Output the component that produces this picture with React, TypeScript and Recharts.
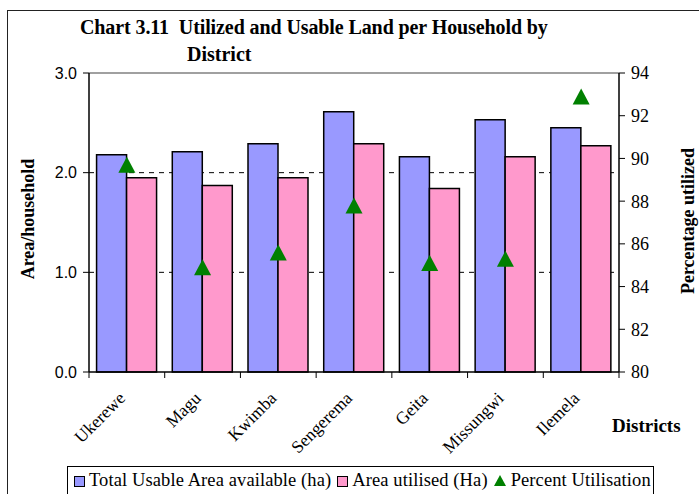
import { ComposedChart, Bar, Scatter, XAxis, YAxis, CartesianGrid, ReferenceLine } from "recharts";

const districts = ["Ukerewe", "Magu", "Kwimba", "Sengerema", "Geita", "Missungwi", "Ilemela"];
const totalUsable = [2.18, 2.21, 2.29, 2.61, 2.16, 2.53, 2.45];
const areaUtilised = [1.95, 1.87, 1.95, 2.29, 1.84, 2.16, 2.27];
const percentUtil = [89.7, 84.9, 85.6, 87.8, 85.1, 85.3, 92.9];
const leftTicks = [0, 1, 2, 3];
const gridValues = [1, 2];
const rightTicks = [80, 82, 84, 86, 88, 90, 92, 94];

const data = districts.map((d, i) => ({
  district: d,
  total: totalUsable[i],
  utilised: areaUtilised[i],
  pct: percentUtil[i],
}));

const W = 699;
const H = 494;
const PLOT_LEFT = 89;
const PLOT_RIGHT = 619;
const BAND = (PLOT_RIGHT - PLOT_LEFT) / districts.length;
const SERIF = "'Liberation Serif', 'Times New Roman', serif";
const SANS = "'Liberation Sans', Arial, sans-serif";

const BLUE = "#9999ff";
const PINK = "#ff99cc";
const GREEN = "#008000";

function DistrictTick(props: any) {
  const { x, y, payload, index } = props;
  const ax = x - 5;
  const ay = y + 15;
  return (
    <g>
      <line x1={x + BAND / 2} y1={y - 8} x2={x + BAND / 2} y2={y - 2} stroke="#000" />
      {index === 0 && <line x1={x - BAND / 2} y1={y - 8} x2={x - BAND / 2} y2={y - 2} stroke="#000" />}
      <text
        x={ax}
        y={ay}
        transform={`rotate(-45 ${ax} ${ay})`}
        textAnchor="end"
        dy="0.35em"
        fontFamily={SERIF}
        fontSize={17.5}
        fill="#000"
      >
        {payload.value}
      </text>
    </g>
  );
}

function Triangle(props: any) {
  const { cx, cy } = props;
  if (cx == null || cy == null) return null;
  return <polygon points={`${cx},${cy - 8} ${cx + 8.5},${cy + 8} ${cx - 8.5},${cy + 8}`} fill={GREEN} />;
}

const boldLabel: React.CSSProperties = {
  position: "absolute",
  fontFamily: SERIF,
  fontWeight: "bold",
  fontSize: 18,
  whiteSpace: "nowrap",
  color: "#000",
};

export default function App() {
  return (
    <div style={{ position: "absolute", left: 0, top: 0, width: W, height: H, overflow: "hidden", background: "#fff" }}>
      <div
        style={{
          position: "absolute",
          left: 7,
          top: 10,
          width: W + 20,
          height: H + 20,
          border: "1.5px solid #222",
        }}
      />
      <div style={{ ...boldLabel, fontSize: 20, left: 80, top: 16, letterSpacing: -0.1 }}>
        Chart 3.11&nbsp;&nbsp;Utilized and Usable Land per Household by
      </div>
      <div style={{ ...boldLabel, fontSize: 20, left: 187, top: 43 }}>District</div>
      <div style={{ ...boldLabel, left: 28, top: 219, transform: "translate(-50%, -50%) rotate(-90deg)" }}>
        Area/household
      </div>
      <div style={{ ...boldLabel, left: 688, top: 221, transform: "translate(-50%, -50%) rotate(-90deg)" }}>
        Percentage utilized
      </div>
      <div style={{ ...boldLabel, fontSize: 19, left: 612, top: 415 }}>Districts</div>

      <div style={{ position: "absolute", left: 0, top: 0 }}>
        <ComposedChart
          width={W}
          height={H}
          data={data}
          margin={{ top: 73, right: 30, bottom: 42, left: 39 }}
          barCategoryGap="10%"
          barGap={0}
        >
          <CartesianGrid
            vertical={false}
            stroke="#000"
            strokeDasharray="5 5"
            yAxisId="left"
            horizontalValues={gridValues}
          />
          <XAxis
            dataKey="district"
            interval={0}
            height={80}
            tick={<DistrictTick />}
            tickLine={false}
            axisLine={{ stroke: "#000", strokeWidth: 1.5 }}
          />
          <YAxis
            yAxisId="left"
            orientation="left"
            width={50}
            domain={[0, 3]}
            ticks={leftTicks}
            tickFormatter={(v: number) => v.toFixed(1)}
            tickSize={6}
            tickMargin={6}
            tick={{ fontFamily: SANS, fontSize: 16, fill: "#000" }}
            tickLine={{ stroke: "#000" }}
            axisLine={{ stroke: "#000", strokeWidth: 1.5 }}
          />
          <YAxis
            yAxisId="right"
            orientation="right"
            width={50}
            domain={[80, 94]}
            ticks={rightTicks}
            tickSize={6}
            tickMargin={6}
            tick={{ fontFamily: SERIF, fontSize: 18, fill: "#000" }}
            tickLine={{ stroke: "#000" }}
            axisLine={{ stroke: "#000", strokeWidth: 1.5 }}
          />
          <ReferenceLine yAxisId="left" y={3} stroke="#808080" strokeWidth={1.5} ifOverflow="extendDomain" />
          <Bar yAxisId="left" dataKey="total" name="Total Usable Area available (ha)" fill={BLUE} stroke="#000" strokeWidth={1.5} isAnimationActive={false} />
          <Bar yAxisId="left" dataKey="utilised" name="Area utilised (Ha)" fill={PINK} stroke="#000" strokeWidth={1.5} isAnimationActive={false} />
          <Scatter yAxisId="right" dataKey="pct" name="Percent Utilisation" shape={<Triangle />} isAnimationActive={false} />
        </ComposedChart>
      </div>

      <div
        style={{
          position: "absolute",
          left: 67,
          top: 466,
          width: 587,
          height: 40,
          border: "1px solid #000",
          boxSizing: "border-box",
          fontFamily: SERIF,
          fontSize: 18.5,
          letterSpacing: 0.1,
          display: "flex",
          alignItems: "flex-start",
          paddingTop: 3,
          paddingLeft: 6,
          whiteSpace: "nowrap",
        }}
      >
        <span style={{ flexShrink: 0, display: "inline-block", width: 9, height: 9, background: BLUE, border: "1px solid #000", marginTop: 6, marginRight: 4 }} />
        <span style={{ marginRight: 6 }}>Total Usable Area available (ha)</span>
        <span style={{ flexShrink: 0, display: "inline-block", width: 9, height: 9, background: PINK, border: "1px solid #000", marginTop: 6, marginRight: 4 }} />
        <span style={{ marginRight: 6 }}>Area utilised (Ha)</span>
        <svg width={12} height={12} style={{ flexShrink: 0, marginTop: 5, marginRight: 5 }}>
          <polygon points="6,0 12,11 0,11" fill={GREEN} />
        </svg>
        <span>Percent Utilisation</span>
      </div>
    </div>
  );
}
